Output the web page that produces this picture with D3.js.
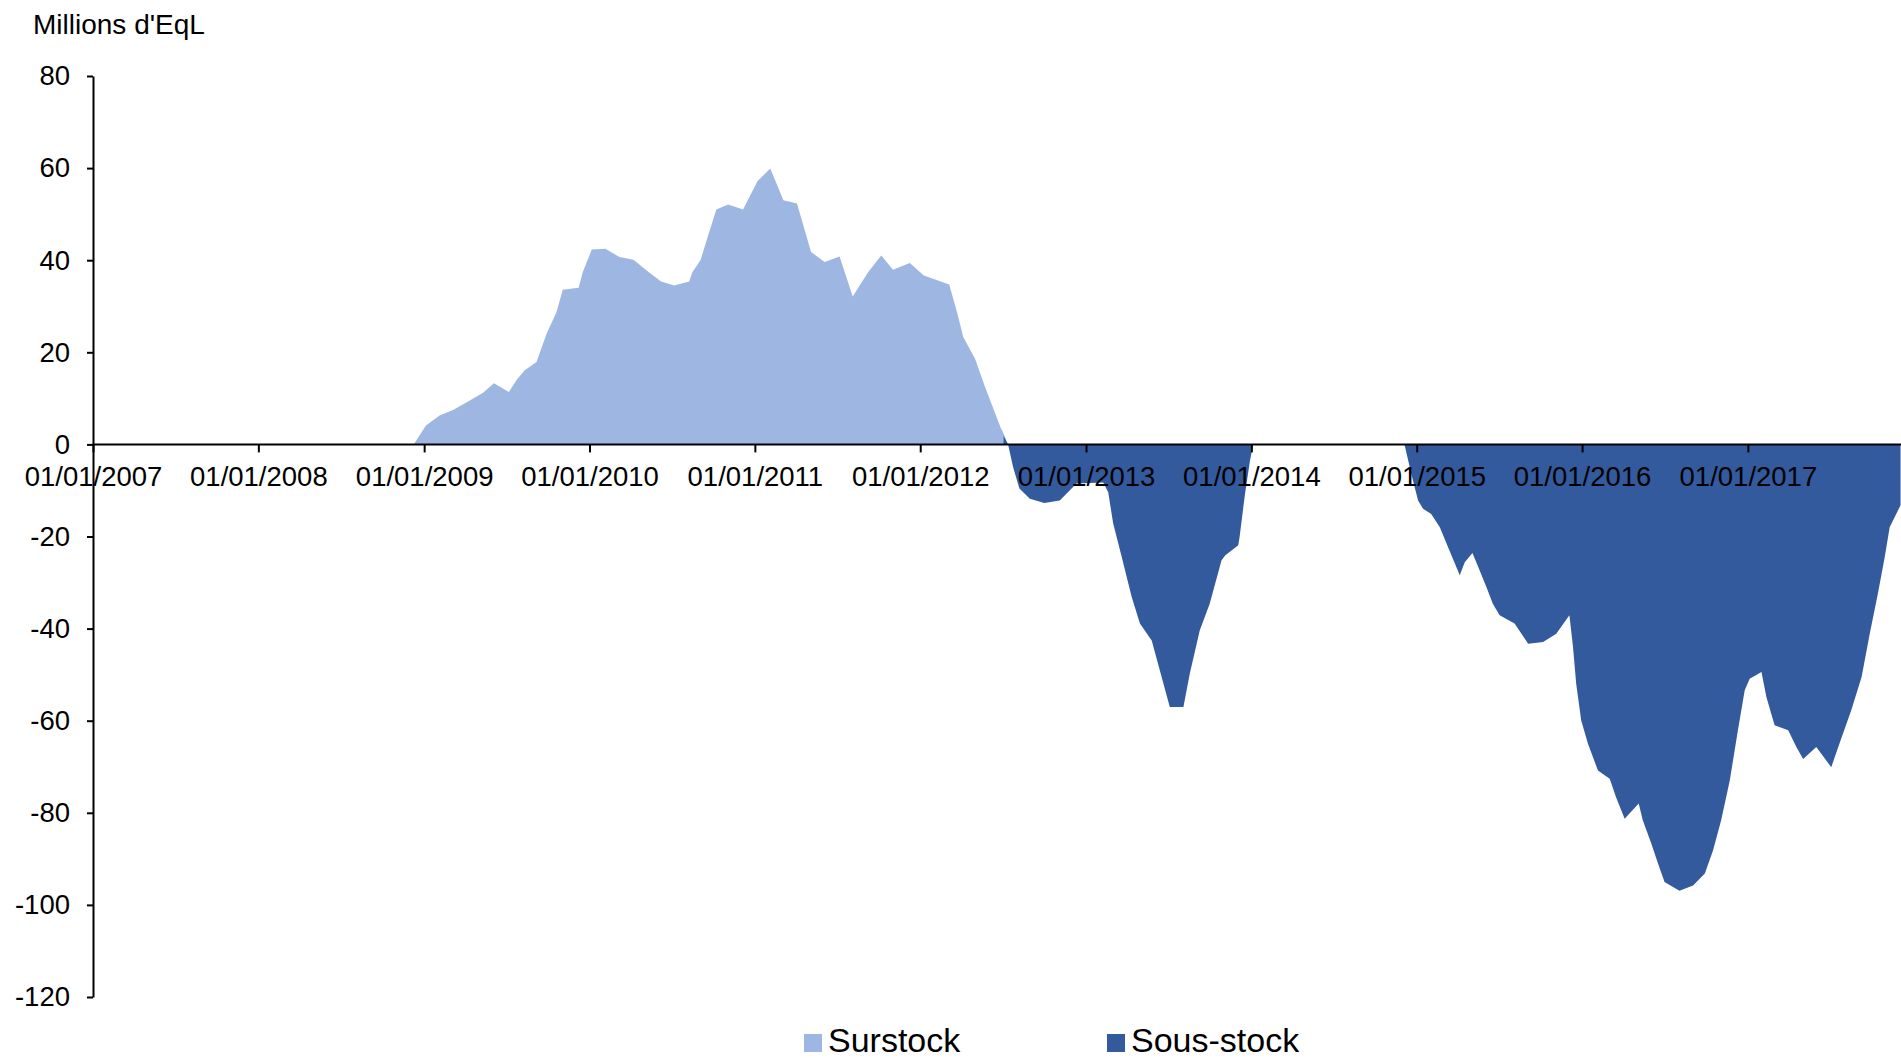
<!DOCTYPE html>
<html>
<head>
<meta charset="utf-8">
<script src="https://cdn.jsdelivr.net/npm/d3@7"></script>
<style>
  html, body { margin: 0; padding: 0; background: #fff; }
  svg { display: block; font-family: 'Liberation Sans', Arial, sans-serif; }
  .axis path, .axis line { stroke: #000; stroke-width: 2; }
  .axis text { fill: #000; font-size: 27.5px; }
</style>
</head>
<body>
<script>
// Surstock (light blue area)
const surDates = ['2008-12-09', '2009-01-05', '2009-02-04', '2009-03-07', '2009-04-06', '2009-05-11',
  '2009-06-04', '2009-07-07', '2009-07-24', '2009-08-11', '2009-09-06', '2009-09-28', '2009-10-20',
  '2009-11-03', '2009-12-08', '2009-12-17', '2010-01-06', '2010-02-05', '2010-03-08', '2010-04-08',
  '2010-05-12', '2010-06-08', '2010-07-07', '2010-08-09', '2010-08-16', '2010-09-03', '2010-09-20',
  '2010-10-08', '2010-11-03', '2010-12-06', '2011-01-07', '2011-02-04', '2011-03-05', '2011-04-04',
  '2011-05-05', '2011-06-04', '2011-07-07', '2011-08-05', '2011-09-08', '2011-10-07', '2011-11-02',
  '2011-12-09', '2012-01-09', '2012-03-05', '2012-03-23', '2012-04-05', '2012-05-01', '2012-05-23',
  '2012-06-09', '2012-06-26', '2012-07-06', '2012-07-12'];
const surValues = [0, 4.1, 6.3, 7.5, 9.2, 11.2,
  13.3, 11.4, 14.0, 16.1, 17.9, 24.0, 28.7,
  33.6, 34.0, 37.4, 42.3, 42.5, 40.7, 40.1,
  37.4, 35.4, 34.5, 35.4, 37.4, 40.0, 45.4,
  51.0, 52.1, 51.0, 57.2, 59.9, 53.0, 52.3,
  41.8, 39.6, 40.8, 32.1, 37.4, 41.0, 37.9,
  39.4, 36.7, 34.7, 28.4, 23.3, 18.6, 12.5,
  8.1, 3.8, 1.7, 0];

// Sous-stock (dark blue area)
const sousDates = ['2012-07-03', '2012-07-13', '2012-07-24', '2012-08-07', '2012-08-30', '2012-10-01',
  '2012-11-04', '2012-11-22', '2012-12-11', '2013-02-08', '2013-02-19', '2013-03-02', '2013-03-21',
  '2013-04-12', '2013-04-30', '2013-05-26', '2013-06-13', '2013-07-05', '2013-08-04', '2013-08-18',
  '2013-09-09', '2013-10-01', '2013-10-27', '2013-11-04', '2013-12-03', '2013-12-06', '2013-12-18',
  '2013-12-29', '2014-01-05', '2014-12-05', '2014-12-20', '2015-01-04', '2015-01-15', '2015-02-02',
  '2015-02-21', '2015-03-11', '2015-04-06', '2015-04-17', '2015-05-04', '2015-05-20', '2015-06-04',
  '2015-06-18', '2015-07-03', '2015-08-05', '2015-09-04', '2015-10-07', '2015-11-05', '2015-12-04',
  '2015-12-12', '2015-12-19', '2015-12-30', '2016-01-14', '2016-02-05', '2016-03-02', '2016-03-16',
  '2016-04-04', '2016-05-05', '2016-05-14', '2016-06-02', '2016-06-17', '2016-07-01', '2016-08-03',
  '2016-09-02', '2016-09-28', '2016-10-16', '2016-11-03', '2016-11-22', '2016-12-10', '2016-12-25',
  '2017-01-05', '2017-01-31', '2017-02-11', '2017-03-01', '2017-03-31', '2017-04-18', '2017-05-03',
  '2017-06-01', '2017-07-04', '2017-07-22', '2017-08-17', '2017-09-09', '2017-09-27', '2017-10-15',
  '2017-10-30', '2017-11-10', '2017-12-04'];
const sousValues = [1.8, 0, -4.9, -9.6, -11.8, -12.7,
  -12.2, -10.4, -8.5, -8.3, -10.4, -17.2, -24.5,
  -33.2, -38.9, -42.6, -49.1, -57.0, -57.0, -49.8,
  -40.4, -34.6, -25.2, -24.1, -21.9, -20.1, -10.7,
  -3.5, 0, 0, -6.4, -12.2, -14.0, -15.1,
  -18.0, -22.3, -28.4, -25.6, -23.6, -27.4, -31.0,
  -34.6, -37.1, -38.9, -43.3, -42.9, -41.1, -37.1,
  -44.0, -52.0, -59.9, -65.0, -70.8, -72.6, -76.6,
  -81.3, -78.0, -81.6, -86.7, -91.1, -95.0, -96.9,
  -95.8, -93.2, -88.2, -81.6, -73.0, -62.1, -53.4,
  -50.9, -49.4, -54.9, -61.0, -62.1, -65.7, -68.3,
  -65.7, -70.1, -65.0, -57.8, -50.5, -41.1, -32.4,
  -24.5, -18.0, -13.2];

const xTickDates = ['2007-01-01', '2008-01-01', '2009-01-01', '2010-01-01', '2011-01-01', '2012-01-01',
  '2013-01-01', '2014-01-01', '2015-01-01', '2016-01-01', '2017-01-01'];
const yTicks = [80, 60, 40, 20, 0, -20, -40, -60, -80, -100, -120];

const seriesNames = ['Surstock', 'Sous-stock'];
const seriesColors = ['#9db6e2', '#335a9d'];

const parseDate = d3.timeParse('%Y-%m-%d');
const formatDate = d3.timeFormat('%d/%m/%Y');

const width = 1901;
const height = 1058;
const margin = { top: 76, right: 0, bottom: 61, left: 93 };

const svg = d3.select('body')
  .append('svg')
  .attr('width', width)
  .attr('height', height);

// Scales
const xScale = d3.scaleTime()
  .domain([parseDate('2007-01-01'), parseDate('2017-12-05')])
  .range([margin.left, width - margin.right]);

const yScale = d3.scaleLinear()
  .domain([-120, 80])
  .range([height - margin.bottom, margin.top]);

// Areas
const area = d3.area()
  .x(d => xScale(d.date))
  .y0(yScale(0))
  .y1(d => yScale(d.value));

const surData = surDates.map((d, i) => ({ date: parseDate(d), value: surValues[i] }));
const sousData = sousDates.map((d, i) => ({ date: parseDate(d), value: sousValues[i] }));

svg.append('path')
  .datum(surData)
  .attr('fill', seriesColors[0])
  .attr('d', area);

svg.append('path')
  .datum(sousData)
  .attr('fill', seriesColors[1])
  .attr('d', area);

// Y axis (plain hyphen for negatives, as in the original)
svg.append('g')
  .attr('class', 'axis')
  .attr('transform', `translate(${margin.left}, 0)`)
  .call(d3.axisLeft(yScale)
    .tickValues(yTicks)
    .tickSize(6)
    .tickPadding(17)
    .tickSizeOuter(0)
    .tickFormat(d => String(d)));

// X axis at zero
const xAxis = svg.append('g')
  .attr('class', 'axis')
  .attr('transform', `translate(0, ${yScale(0)})`)
  .call(d3.axisBottom(xScale)
    .tickValues(xTickDates.map(parseDate))
    .tickSize(8)
    .tickPadding(14)
    .tickSizeOuter(0)
    .tickFormat(formatDate));

xAxis.select('.domain').attr('d', `M${margin.left},0H${width}`);

// Unit label
svg.append('text')
  .attr('x', 33)
  .attr('y', 34)
  .style('font-size', '28px')
  .text("Millions d'EqL");

// Legend
const legend = svg.append('g').attr('id', 'legend');
const legendX = [804, 1107];

seriesNames.forEach((name, i) => {
  legend.append('rect')
    .attr('x', legendX[i])
    .attr('y', 1034)
    .attr('width', 18)
    .attr('height', 18)
    .style('fill', seriesColors[i]);

  legend.append('text')
    .attr('x', legendX[i] + 24)
    .attr('y', 1052)
    .style('font-size', '34px')
    .text(name);
});
</script>
</body>
</html>
